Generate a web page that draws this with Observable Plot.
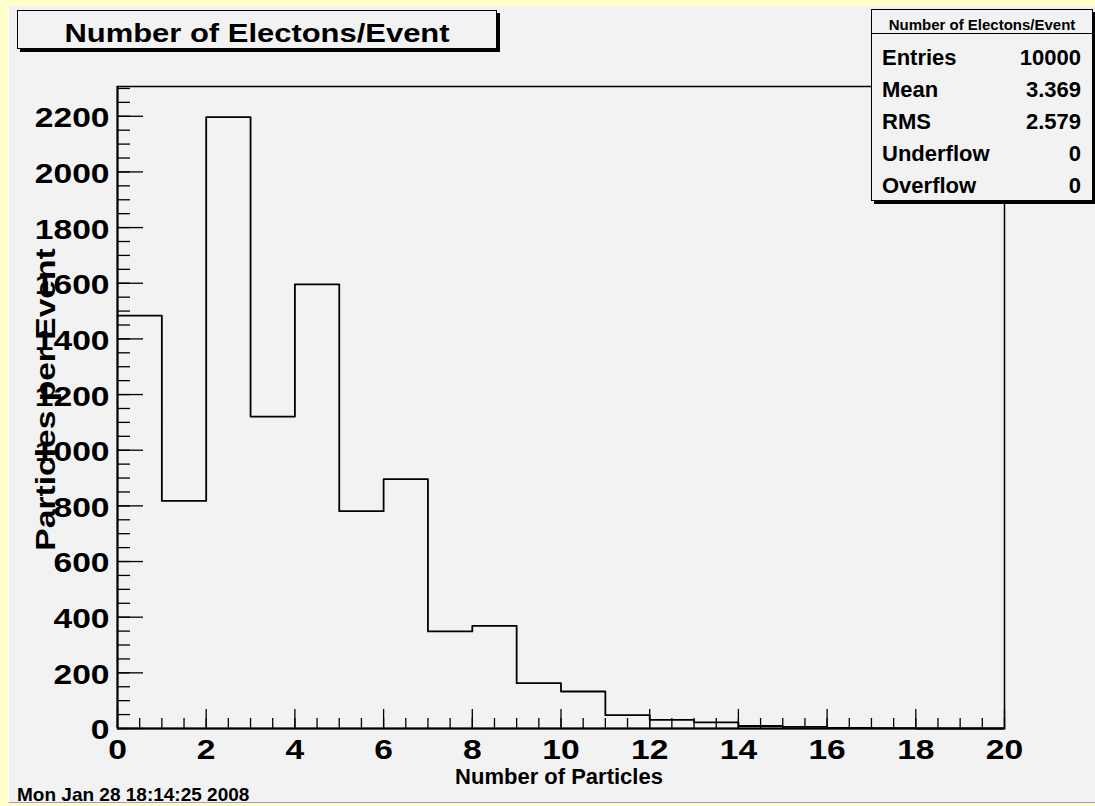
<!DOCTYPE html>
<html>
<head>
<meta charset="utf-8">
<script src="https://cdn.jsdelivr.net/npm/d3@7"></script>
<script src="https://cdn.jsdelivr.net/npm/@observablehq/plot@0.6"></script>
<style>
  html, body { margin: 0; padding: 0; width: 1095px; height: 806px; overflow: hidden;
    background: #ffffcc; font-family: "Liberation Sans", Arial, Helvetica, sans-serif; font-weight: bold; }
  #canvas { position: absolute; left: 8px; top: 6px; width: 1087px; height: 797px; background: #f2f2f2;
    border-bottom: 1px solid #a0a0a0; border-left: 1px solid #ffffff; box-sizing: border-box; }
  #chart { position: absolute; left: 0; top: 0; }
  .box { position: absolute; background: #f2f2f2; border: 1px solid #000; box-shadow: 3px 3px 0 #000; box-sizing: border-box; }
  #title { left: 17px; top: 10px; width: 480px; height: 39px; }
  #title span { position: absolute; left: 0; width: 100%; text-align: center; top: 9px; font-size: 26px; line-height: 26px;
    transform: scaleX(1.19); transform-origin: 50% 50%; color: #000; white-space: nowrap; }
  #stats { left: 871px; top: 9px; width: 222px; height: 192px; }
  #stats .hdr { position: absolute; left: 0; top: 0; width: 100%; height: 23px; border-bottom: 1px solid #000; }
  #stats .hdr span { position: absolute; left: 0; width: 100%; text-align: center; top: 7px; font-size: 15px; line-height: 15px; white-space: nowrap; }
  #stats .row { position: absolute; left: 10px; right: 11px; font-size: 22px; line-height: 22px; height: 22px; }
  #stats .row .v { position: absolute; right: 0; top: 0; }
  #date { position: absolute; left: 17px; top: 785px; font-size: 19px; line-height: 19px; white-space: nowrap; }
</style>
</head>
<body>
<div id="canvas"></div>
<div id="chart"></div>
<div id="title" class="box"><span></span></div>
<div id="stats" class="box"><div class="hdr"><span></span></div></div>
<div id="date"></div>
<script>
// ---- data ----
const titleText = "Number of Electons/Event";
const xLabel = "Number of Particles";
const yLabel = "Particles per Event";
const dateText = "Mon Jan 28 18:14:25 2008";
const binLow = [0, 1, 2, 3, 4, 5, 6, 7, 8, 9, 10, 11, 12, 13, 14, 15, 16, 17, 18, 19];
const binHigh = 20;
const counts = [1484, 818, 2197, 1121, 1596, 781, 896, 349, 369, 163, 133, 48, 31, 22, 9, 6, 2, 1, 0, 0];
const xTicks = [0, 2, 4, 6, 8, 10, 12, 14, 16, 18, 20];
const yTicks = [0, 200, 400, 600, 800, 1000, 1200, 1400, 1600, 1800, 2000, 2200];
const statNames = ["Entries", "Mean", "RMS", "Underflow", "Overflow"];
const statValues = ["10000", "3.369", "2.579", "0", "0"];
const yMax = 2307;

// ---- layout ----
const W = 1095, H = 806;
const mL = 117, mR = 1095 - 1004, mT = 86, mB = 806 - 728;
const frameW = W - mL - mR, frameH = H - mT - mB;

const xMinor = d3.range(0, 20.001, 0.5);
const yMinor = d3.range(0, 2300.001, 50);

const pts = binLow.map((x, i) => ({x, y: counts[i]}));
pts.push({x: binHigh, y: counts[counts.length - 1]});

const fontFam = '"Liberation Sans", Arial, Helvetica, sans-serif';

const chart = Plot.plot({
  width: W, height: H,
  marginLeft: mL, marginRight: mR, marginTop: mT, marginBottom: mB,
  style: {background: "transparent", fontFamily: fontFam, fontWeight: "bold", color: "#000", overflow: "visible"},
  x: {domain: [0, 20], label: null},
  y: {domain: [0, yMax], label: null},
  marks: [
    Plot.frame({stroke: "#000", strokeWidth: 1.5}),
    Plot.ruleY(yMinor, {stroke: "#000", strokeWidth: 1.3, insetRight: frameW - 13}),
    Plot.ruleY(yTicks, {stroke: "#000", strokeWidth: 1.3, insetRight: frameW - 26}),
    Plot.ruleX(xMinor, {stroke: "#000", strokeWidth: 1.3, insetTop: frameH - 10}),
    Plot.ruleX(xTicks, {stroke: "#000", strokeWidth: 1.3, insetTop: frameH - 19}),
    Plot.line(pts, {x: "x", y: "y", curve: "step-after", stroke: "#000", strokeWidth: 1.8}),
    Plot.ruleX([0], {stroke: "#000", strokeWidth: 2}),
    Plot.ruleY([0], {stroke: "#000", strokeWidth: 2}),
    Plot.axisY(yTicks, {tickSize: 0, tickPadding: 8, fontSize: 28, dy: 2, tickFormat: d => String(d), label: null}),
    Plot.axisX(xTicks, {tickSize: 0, tickPadding: 11, fontSize: 28, tickFormat: d => String(d), label: null}),
    Plot.text([xLabel], {frameAnchor: "bottom", dy: 48, fontSize: 22, lineAnchor: "middle", textAnchor: "middle", dx: -2}),
    Plot.text([yLabel], {frameAnchor: "left", dx: -63, dy: -8, rotate: -90, fontSize: 28, lineAnchor: "bottom", textAnchor: "middle", className: "ylab"})
  ]
});
document.getElementById("chart").appendChild(chart);

// widen the large labels along their reading direction (around their anchor point)
function stretch(el, s) {
  const x = parseFloat(el.getAttribute("x")) || 0;
  const t = el.getAttribute("transform") || "";
  el.setAttribute("transform", `${t} translate(${x},0) scale(${s},1) translate(${-x},0)`.trim());
}
chart.querySelectorAll('g[aria-label="y-axis tick label"] text, g[aria-label="x-axis tick label"] text')
  .forEach(t => stretch(t, 1.2));
chart.querySelectorAll('.ylab text').forEach(t => stretch(t, 1.2));

document.querySelector("#title span").textContent = titleText;
document.querySelector("#stats .hdr span").textContent = titleText;
document.getElementById("date").textContent = dateText;

const stats = document.getElementById("stats");
const baselines = [66, 98, 130, 162, 194];
statNames.forEach((n, i) => {
  const r = document.createElement("div");
  r.className = "row";
  r.style.top = (baselines[i] - 18.6 - 10) + "px";
  const a = document.createElement("span"); a.textContent = n;
  const b = document.createElement("span"); b.className = "v"; b.textContent = statValues[i];
  r.appendChild(a); r.appendChild(b);
  stats.appendChild(r);
});
</script>
</body>
</html>
